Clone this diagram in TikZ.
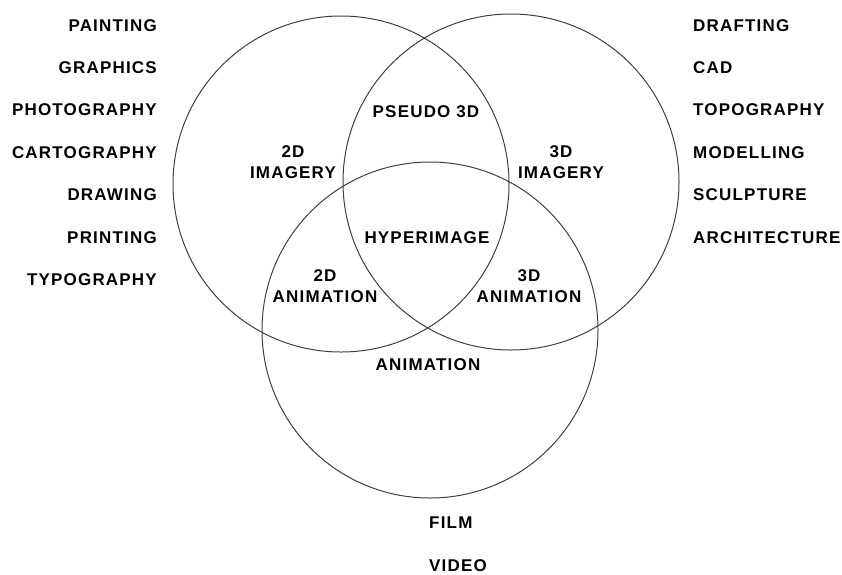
\documentclass[tikz,border=0pt]{standalone}
\usepackage{fontspec}
\setmainfont{Liberation Sans}[LetterSpace=7]
\usetikzlibrary{positioning}

\begin{document}
\begin{tikzpicture}[x=1pt, y=-1pt,
			ring/.style = {draw=black!75, line width=1pt, circle,
				minimum size=336pt, inner sep=0pt},
			field/.style = {font=\bfseries\fontsize{17}{21}\selectfont,
				inner sep=0pt, align=center},
			media/.style = {field, anchor=east},
			solid3d/.style = {field, anchor=west}]
			\useasboundingbox (0,0) rectangle (842,574);
			
			% the three circles
			\node[ring] (imagery2d) at (341,184) {};
			\node[ring] (imagery3d) at (511,182) {};
			\node[ring] (motion) at (430,330) {};
			
			% regions
			\node[field] (flat) at (293,162) {2D\\IMAGERY};
			\node[field] (deep) at (561,162) {3D\\IMAGERY};
			\node[field] (pseudo) at (426,112) {PSEUDO 3D};
			\node[field] (hyper) at (427,238) {HYPERIMAGE};
			\node[field] (anim2d) at (325,286) {2D\\ANIMATION};
			\node[field] (anim3d) at (529,286) {3D\\ANIMATION};
			\node[field] (anim) at (428,365) {ANIMATION};
			
			% 2D media
			\node[media] (painting) at (157,26) {PAINTING};
			\node[media] (graphics) at (157,68) {GRAPHICS};
			\node[media] (photo) at (157,110) {PHOTOGRAPHY};
			\node[media] (carto) at (157,153) {CARTOGRAPHY};
			\node[media] (drawing) at (157,195) {DRAWING};
			\node[media] (printing) at (157,238) {PRINTING};
			\node[media] (typo) at (157,280) {TYPOGRAPHY};
			
			% 3D media
			\node[solid3d] (drafting) at (693,26) {DRAFTING};
			\node[solid3d] (cad) at (693,68) {CAD};
			\node[solid3d] (topo) at (693,110) {TOPOGRAPHY};
			\node[solid3d] (modelling) at (693,153) {MODELLING};
			\node[solid3d] (sculpture) at (693,195) {SCULPTURE};
			\node[solid3d] (archi) at (693,238) {ARCHITECTURE};
			
			% moving media
			\node[solid3d] (film) at (429,523) {FILM};
			\node[solid3d] (video) at (429,566) {VIDEO};
		\end{tikzpicture}
\end{document}
